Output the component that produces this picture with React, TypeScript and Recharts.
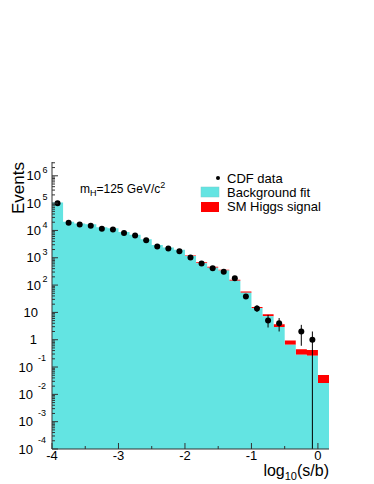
import React from "react";
import { Area, ComposedChart, ErrorBar, Scatter, XAxis, YAxis } from "recharts";

const W = 374;
const H = 484;
// plot frame
const L = 52;
const R = 329;
const T = 162;
const B = 449;

const FONT = "'Liberation Sans', Arial, sans-serif";
const CYAN = "#63e4e2";
const RED = "#ff0000";

const binWidth = 1 / 6;
const binLow = Array.from({ length: 25 }, (_, i) => -4 + i * binWidth);

const bgFit = [
  105000, 21000, 18000, 17000, 13000, 12000, 8700, 6900, 4800, 2950, 2350, 1950,
  1170, 630, 430, 340, 145, 52, 14.2, 7.2, 2.95, 0.66, 0.28, 0.26, 0.026,
];
const higgs = [
  40, 12, 10, 9, 8, 8, 7, 7, 6, 6, 7, 14, 40, 60, 35, 25, 13, 6, 1.7, 1.3, 0.75,
  0.27, 0.17, 0.16, 0.025,
];
const cdfData: (number | null)[] = [
  98000, 19000, 16500, 14800, 11500, 10800, 8000, 6500, 4400, 2600, 2200, 1740,
  1020, 620, 415, 305, 178, 38, 14, 5, 4, null, 2, 1, null,
];
const errLow = [
  0, 0, 0, 0, 0, 0, 0, 0, 0, 0, 0, 0, 0, 0, 0, 0, 0, 6, 3.6, 2.2, 2.0, 0, 1.4, 0.9999, 0,
];
const errHigh = [
  0, 0, 0, 0, 0, 0, 0, 0, 0, 0, 0, 0, 0, 0, 0, 0, 0, 7, 4.2, 3.1, 2.2, 0, 1.5, 1.0, 0,
];

const xDomain = [-4, 1 / 6];
const yDomain = [1e-4, 3.2e6];
const xTicks = [-4, -3.5, -3, -2.5, -2, -1.5, -1, -0.5, 0];
const yMajor = [1e-4, 1e-3, 1e-2, 1e-1, 1, 10, 100, 1e3, 1e4, 1e5, 1e6];
const yTicks = yMajor
  .flatMap((d) => [1, 2, 3, 4, 5, 6, 7, 8, 9].map((m) => m * d))
  .filter((v) => v <= yDomain[1]);

const histRows = binLow.map((x, i) => ({ x, bg: bgFit[i], tot: bgFit[i] + higgs[i] }));
// closing edge of the last bin
histRows.push({ x: binLow[24] + binWidth, bg: bgFit[24], tot: bgFit[24] + higgs[24] });

const points = binLow
  .map((lo, i) => ({ x: lo + binWidth / 2, y: cdfData[i], err: [errLow[i], errHigh[i]] }))
  .filter((p) => p.y !== null);

const isMajor = (v: number) => Math.abs(Math.log10(v) - Math.round(Math.log10(v))) < 1e-6;

function LeftTick({ y, payload }: any) {
  const v = payload.value;
  const major = isMajor(v);
  const e = Math.round(Math.log10(v));
  const txt = { fontFamily: FONT, fontSize: 13, fill: "#000" };
  let label = null;
  if (major) {
    if (e === 0) {
      label = <text {...txt} x={37} y={y} dy="0.35em" textAnchor="end">1</text>;
    } else if (e === 1) {
      label = <text {...txt} x={38} y={y} dy="0.35em" textAnchor="end">10</text>;
    } else if (e > 1) {
      label = (
        <g>
          <text {...txt} x={41} y={y} dy="0.35em" textAnchor="end">10</text>
          <text {...txt} fontSize={9} x={42.5} y={y - 6} dy="0.35em">{e}</text>
        </g>
      );
    } else {
      label = (
        <g>
          <text {...txt} x={33} y={y} dy="0.35em" textAnchor="end">10</text>
          <text {...txt} fontSize={9} x={46} y={y - 9} dy="0.35em" textAnchor="end">{`${e}`}</text>
        </g>
      );
    }
  }
  return (
    <g>
      <line x1={L} x2={L + (major ? 6 : 3)} y1={y} y2={y} stroke="#333" />
      {label}
    </g>
  );
}

function RightTick({ y, payload }: any) {
  const major = isMajor(payload.value);
  return <line x1={R} x2={R - (major ? 6 : 3)} y1={y} y2={y} stroke="#333" />;
}

function BottomTick({ x, payload }: any) {
  const v = payload.value;
  const major = Number.isInteger(v);
  return (
    <g>
      <line x1={x} x2={x} y1={B} y2={B - (major ? 6 : 3)} stroke="#333" />
      {major && (
        <text x={x} y={460} textAnchor="middle" fontFamily={FONT} fontSize={13} fill="#000">
          {`${v}`}
        </text>
      )}
    </g>
  );
}

function TopTick({ x, payload }: any) {
  const major = Number.isInteger(payload.value);
  return <line x1={x} x2={x} y1={T} y2={T + (major ? 6 : 4)} stroke="#555" />;
}

export default function App() {
  return (
    <div style={{ position: "absolute", left: 0, top: 0, width: W, height: H, background: "#fff" }}>
      <ComposedChart
        width={W}
        height={H}
        data={histRows}
        margin={{ top: T, right: W - R, bottom: 0, left: 0 }}
      >
        <XAxis
          xAxisId="b"
          dataKey="x"
          type="number"
          domain={xDomain}
          allowDataOverflow
          ticks={xTicks}
          interval={0}
          height={H - B}
          tickLine={false}
          axisLine={{ stroke: "#333" }}
          tick={(p: any) => <BottomTick {...p} />}
          label={() => (
            <text x={R} y={476} textAnchor="end" fontFamily={FONT} fontSize={16} fill="#000">
              log
              <tspan fontSize={11} dy={4}>10</tspan>
              <tspan dy={-4}>(s/b)</tspan>
            </text>
          )}
        />
        <XAxis
          xAxisId="t"
          orientation="top"
          type="number"
          domain={xDomain}
          allowDataOverflow
          ticks={xTicks}
          interval={0}
          height={0}
          tickLine={false}
          axisLine={{ stroke: "#999" }}
          tick={(p: any) => <TopTick {...p} />}
        />
        <YAxis
          yAxisId="l"
          type="number"
          scale="log"
          domain={yDomain}
          allowDataOverflow
          ticks={yTicks}
          interval={0}
          width={L}
          tickLine={false}
          axisLine={{ stroke: "#333" }}
          tick={(p: any) => <LeftTick {...p} />}
          label={() => (
            <text
              x={24}
              y={T}
              transform={`rotate(-90 24 ${T})`}
              textAnchor="end"
              fontFamily={FONT}
              fontSize={17}
              fill="#000"
            >
              Events
            </text>
          )}
        />
        <YAxis
          yAxisId="r"
          orientation="right"
          type="number"
          scale="log"
          domain={yDomain}
          allowDataOverflow
          ticks={yTicks}
          interval={0}
          width={0}
          tickLine={false}
          axisLine={{ stroke: "#333" }}
          tick={(p: any) => <RightTick {...p} />}
        />
        <Area
          xAxisId="b"
          yAxisId="l"
          type="stepAfter"
          dataKey={(d: any) => [d.bg, d.tot]}
          fill={RED}
          fillOpacity={1}
          stroke="none"
          isAnimationActive={false}
        />
        <Area
          xAxisId="b"
          yAxisId="l"
          type="stepAfter"
          dataKey="bg"
          baseValue="dataMin"
          fill={CYAN}
          fillOpacity={1}
          stroke="none"
          isAnimationActive={false}
        />
        <Scatter
          xAxisId="b"
          yAxisId="l"
          data={points}
          dataKey="y"
          isAnimationActive={false}
          shape={(p: any) => <circle cx={p.cx} cy={p.cy} r={3} fill="#000" />}
        >
          <ErrorBar dataKey="err" direction="y" width={0} stroke="#000" strokeWidth={1} />
        </Scatter>
      </ComposedChart>
      <svg
        width={W}
        height={H}
        style={{ position: "absolute", left: 0, top: 0, pointerEvents: "none" }}
        fontFamily={FONT}
      >
        <text x={80} y={192.5} fontSize={12} fill="#000">
          m
          <tspan fontSize={9} dy={3}>H</tspan>
          <tspan dy={-3}>=125 GeV/c</tspan>
          <tspan fontSize={9} dy={-5}>2</tspan>
        </text>
        <circle cx={218} cy={178} r={2} fill="#000" />
        <text x={227} y={182.5} fontSize={13} fill="#000">CDF data</text>
        <rect x={201} y={187} width={18} height={10} fill={CYAN} stroke="#7cc" strokeWidth={0.5} />
        <text x={227} y={196.5} fontSize={13} fill="#000">Background fit</text>
        <rect x={201} y={202} width={18} height={10} fill={RED} />
        <text x={227} y={211} fontSize={13} fill="#000">SM Higgs signal</text>
      </svg>
    </div>
  );
}
